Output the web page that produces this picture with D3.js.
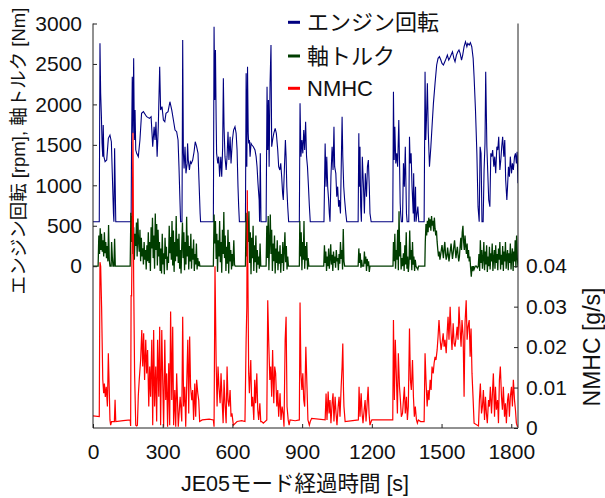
<!DOCTYPE html>
<html>
<head>
<meta charset="utf-8">
<script src="https://cdn.jsdelivr.net/npm/d3@7"></script>
<style>
  body { margin: 0; background: #fff; }
  svg { display: block; font-family: "Liberation Sans", "Noto Sans CJK JP", sans-serif; }
</style>
</head>
<body>
<svg width="605" height="498"></svg>
<script>
var svg = d3.select("svg");

// [time s, value]
var engine = [[0,550],[27,550],[30,2755],[33,2136],[36,1869],[39,1518],[42,1354],[44,1745],[47,1354],[52,1292],[59,1312],[66,1580],[73,1621],[79,1539],[83,1148],[88,653],[90,550],[93,1457],[98,550],[164,550],[166,1518],[169,2342],[172,1642],[175,2569],[178,1560],[181,1930],[184,1436],[188,1395],[195,1354],[202,1560],[209,1889],[217,1910],[231,1848],[243,1827],[250,1848],[254,1642],[257,1477],[263,1724],[267,1560],[271,1786],[276,1354],[281,1724],[287,2466],[291,1930],[297,1972],[303,1807],[309,1786],[314,1889],[323,1910],[331,2033],[339,1930],[346,1807],[353,1683],[360,1663],[366,1560],[370,1230],[375,736],[377,550],[383,550],[386,2796],[389,1395],[392,1209],[396,1477],[400,1148],[405,1271],[407,1518],[410,1312],[415,1189],[419,1292],[423,1271],[429,1312],[435,1415],[440,1539],[446,1477],[452,1395],[456,1065],[461,653],[463,550],[518,550],[521,2960],[524,2054],[527,2672],[530,1807],[532,1395],[537,1271],[541,1354],[545,1106],[550,1354],[554,1106],[558,1477],[561,2322],[564,1724],[568,1354],[573,1189],[577,1354],[581,1663],[585,1312],[590,1601],[594,1271],[600,1560],[605,1683],[611,1724],[616,1642],[620,1436],[624,983],[627,736],[630,550],[656,550],[659,2384],[662,1230],[665,2466],[668,1642],[670,1518],[673,1560],[676,1354],[680,1518],[684,1498],[690,1477],[697,1436],[702,1354],[706,1230],[710,1024],[715,818],[717,550],[720,1395],[723,550],[745,550],[749,2219],[752,1436],[755,2054],[758,1230],[762,2260],[766,2734],[769,1477],[773,1560],[778,1642],[784,1704],[789,1642],[795,1436],[799,1230],[804,1189],[808,1271],[812,1106],[816,900],[819,818],[824,1230],[828,1560],[831,1354],[834,983],[838,736],[842,550],[888,550],[891,2013],[895,1354],[899,1560],[903,1395],[907,1683],[911,1436],[915,1786],[919,1354],[923,1230],[927,1000],[931,750],[935,550],[994,550],[999,1518],[1003,983],[1006,1354],[1010,983],[1014,818],[1017,653],[1020,550],[1024,1106],[1029,1477],[1033,1189],[1037,1724],[1040,1230],[1045,1148],[1049,859],[1053,983],[1057,736],[1060,818],[1065,653],[1069,1354],[1072,1848],[1075,1354],[1079,983],[1083,818],[1088,653],[1092,550],[1141,550],[1144,1642],[1146,983],[1149,1477],[1152,736],[1155,550],[1159,1354],[1164,983],[1168,653],[1172,1148],[1177,859],[1181,1230],[1185,1312],[1189,983],[1192,653],[1197,550],[1290,550],[1293,2157],[1296,1312],[1299,1724],[1303,1271],[1307,1395],[1311,1230],[1316,1807],[1319,1312],[1322,777],[1324,653],[1327,550],[1332,550],[1336,1271],[1340,983],[1344,1477],[1349,653],[1352,550],[1359,550],[1362,1601],[1365,1271],[1369,1395],[1373,983],[1378,653],[1380,1148],[1383,550],[1388,983],[1390,550],[1398,736],[1402,550],[1425,550],[1429,2404],[1432,1560],[1435,1807],[1439,2260],[1443,1642],[1448,1230],[1454,1477],[1459,1724],[1465,2013],[1472,2260],[1479,2487],[1485,2569],[1491,2590],[1497,2548],[1502,2507],[1508,2487],[1514,2528],[1520,2569],[1525,2610],[1531,2548],[1535,2569],[1541,2610],[1547,2651],[1553,2569],[1558,2528],[1564,2610],[1570,2651],[1575,2672],[1580,2631],[1586,2548],[1591,2610],[1597,2713],[1603,2775],[1609,2713],[1613,2754],[1619,2734],[1624,2763],[1630,2713],[1636,2569],[1640,2342],[1646,1930],[1652,1395],[1657,736],[1662,550],[1666,1477],[1670,1395],[1674,550],[1679,550],[1683,1189],[1687,1518],[1690,2404],[1695,1477],[1699,1148],[1703,818],[1708,736],[1712,1395],[1716,1354],[1720,1436],[1725,1230],[1729,1354],[1733,1148],[1738,1477],[1742,1436],[1746,1601],[1751,1189],[1755,1312],[1759,1477],[1763,1601],[1768,1354],[1772,1560],[1776,1065],[1781,818],[1784,983],[1788,1230],[1792,1106],[1796,1354],[1801,1148],[1805,1271],[1809,1189],[1814,1354],[1818,1395],[1822,1271],[1825,1415],[1829,1024]];

var torque = [[0,0],[22,0],[25,380],[28,150],[31,470],[34,200],[37,400],[40,180],[43,320],[46,120],[49,420],[52,160],[55,300],[58,100],[61,250],[64,60],[67,510],[70,80],[73,0],[78,0],[80,300],[83,120],[86,0],[90,0],[93,340],[96,0],[160,0],[163,660],[166,300],[169,620],[172,150],[175,480],[178,80],[181,400],[184,250],[187,540],[190,120],[193,590],[196,300],[199,180],[202,450],[205,60],[208,350],[211,120],[214,220],[217,20],[220,300],[223,80],[226,200],[229,-40],[232,260],[235,60],[238,420],[241,40],[244,300],[247,-60],[250,480],[253,220],[256,600],[259,100],[262,380],[265,-30],[268,650],[271,200],[274,520],[277,10],[280,450],[283,120],[286,300],[289,-60],[292,220],[295,-90],[298,400],[301,20],[304,160],[307,-100],[310,350],[313,90],[316,240],[319,-50],[322,120],[325,40],[328,500],[331,160],[334,360],[337,80],[340,560],[343,10],[346,440],[349,-70],[352,300],[355,60],[358,620],[361,120],[364,340],[367,40],[370,400],[373,-30],[376,200],[379,-90],[382,260],[385,540],[388,100],[391,420],[394,-50],[397,300],[400,20],[403,610],[406,120],[409,380],[412,-40],[415,250],[418,60],[421,400],[424,-30],[427,220],[430,80],[433,330],[436,-60],[439,150],[442,20],[445,280],[448,-40],[451,100],[454,0],[457,60],[460,0],[518,0],[521,640],[524,280],[527,560],[530,90],[533,400],[536,-70],[539,320],[542,120],[545,560],[548,50],[551,300],[554,-80],[557,450],[560,150],[563,670],[566,100],[569,380],[572,-60],[575,240],[578,30],[581,450],[584,-90],[587,300],[590,60],[593,200],[596,-40],[599,150],[602,0],[606,320],[609,20],[612,0],[656,0],[659,660],[662,120],[665,560],[668,300],[671,680],[674,40],[677,420],[680,-100],[683,350],[686,100],[689,500],[692,-60],[695,260],[698,50],[701,380],[704,-80],[707,200],[710,20],[713,120],[716,-30],[719,280],[722,0],[745,0],[748,500],[751,100],[754,620],[757,-50],[760,300],[763,640],[766,150],[769,450],[772,-60],[775,280],[778,60],[781,380],[784,-90],[787,220],[790,40],[793,320],[796,-50],[799,180],[802,30],[805,260],[808,-80],[811,150],[814,40],[817,300],[820,-60],[823,200],[826,420],[829,50],[832,250],[835,-40],[838,120],[841,0],[888,0],[890,560],[893,120],[896,420],[899,-50],[902,300],[905,80],[908,560],[911,-30],[914,250],[917,70],[920,300],[923,-40],[926,100],[929,0],[993,0],[996,260],[999,40],[1002,180],[1005,-60],[1008,120],[1011,0],[1014,220],[1017,-30],[1020,90],[1023,270],[1026,20],[1029,140],[1032,-60],[1035,180],[1038,40],[1041,120],[1044,-20],[1047,200],[1050,60],[1053,100],[1056,-50],[1059,150],[1062,30],[1065,300],[1068,90],[1071,200],[1074,-40],[1077,460],[1080,60],[1083,0],[1141,0],[1144,220],[1147,40],[1150,160],[1153,-20],[1156,80],[1159,0],[1165,0],[1168,180],[1171,30],[1174,120],[1177,-60],[1180,90],[1183,0],[1186,60],[1189,-70],[1192,0],[1291,0],[1293,300],[1296,60],[1299,400],[1302,-30],[1305,200],[1308,80],[1311,450],[1314,-50],[1317,680],[1320,120],[1323,300],[1326,-40],[1329,100],[1332,0],[1336,160],[1339,-60],[1342,260],[1345,20],[1348,420],[1351,-30],[1354,120],[1357,-70],[1360,40],[1363,440],[1366,80],[1369,200],[1372,-50],[1375,300],[1378,20],[1381,120],[1384,-60],[1387,80],[1390,0],[1398,-40],[1401,0],[1428,0],[1430,300],[1433,520],[1436,380],[1439,560],[1442,420],[1445,600],[1448,480],[1451,580],[1454,440],[1457,620],[1460,500],[1463,560],[1466,430],[1469,600],[1472,470],[1475,380],[1478,440],[1481,300],[1484,200],[1487,120],[1490,180],[1493,80],[1496,140],[1499,200],[1502,260],[1505,180],[1508,100],[1511,220],[1514,300],[1517,160],[1520,80],[1523,120],[1526,230],[1529,150],[1532,60],[1535,140],[1538,200],[1541,280],[1544,180],[1547,90],[1550,160],[1553,250],[1556,320],[1559,200],[1562,100],[1565,180],[1568,240],[1571,140],[1574,60],[1577,120],[1580,250],[1583,350],[1586,200],[1589,420],[1592,500],[1595,300],[1598,200],[1601,380],[1604,250],[1607,150],[1610,280],[1613,100],[1616,200],[1619,60],[1622,120],[1625,-20],[1628,-130],[1631,0],[1634,-60],[1637,0],[1640,-40],[1645,0],[1650,0],[1654,-20],[1658,0],[1661,150],[1664,-60],[1667,320],[1670,40],[1673,200],[1676,-30],[1679,100],[1682,300],[1685,-50],[1688,180],[1691,20],[1694,260],[1697,-70],[1700,120],[1703,0],[1706,240],[1709,-40],[1712,160],[1715,60],[1718,280],[1721,-60],[1724,100],[1727,200],[1730,-30],[1733,260],[1736,40],[1739,150],[1742,-50],[1745,220],[1748,80],[1751,300],[1754,-40],[1757,140],[1760,20],[1763,250],[1766,-60],[1769,180],[1772,60],[1775,300],[1778,-30],[1781,120],[1784,200],[1787,-50],[1790,160],[1793,40],[1796,280],[1799,-40],[1802,120],[1805,220],[1808,-60],[1811,180],[1814,60],[1817,320],[1820,-20],[1823,380],[1826,100],[1829,0]];

var nmhc = [[0,.003],[27,.0028],[30,.041],[33,.04],[37,.03],[42,.012],[46,.0086],[49,.011],[53,.0077],[57,.0102],[62,.0053],[66,.0185],[70,.0094],[73,.002],[76,.0007],[80,.0016],[88,.0016],[92,.0016],[95,.007],[98,.0016],[130,.0018],[160,.002],[162,.0005],[164,.0329],[166,.0325],[169,.05],[172,.073],[175,.0366],[179,.0135],[184,.0007],[188,.0005],[191,.0007],[195,.008],[199,.0119],[205,.0168],[210,.0242],[214,.0152],[218,.0234],[222,.0119],[227,.0218],[231,.0135],[235,.0193],[240,.0053],[244,.0152],[248,.0077],[253,.0218],[257,.0007],[261,.0242],[265,.0053],[270,.0152],[274,.0016],[278,.0218],[283,.0077],[287,.025],[291,.0007],[296,.0242],[300,.0119],[304,.0003],[309,.0218],[313,.0069],[317,.0135],[321,.0003],[326,.016],[330,.0007],[334,.0288],[339,.0069],[343,.025],[347,.0007],[352,.0094],[356,.0003],[360,.0135],[367,.0003],[375,.0077],[382,.0016],[386,.0275],[390,.0053],[395,.0102],[399,.0003],[403,.0102],[408,.0218],[412,.0036],[416,.0226],[420,.0102],[425,.0069],[429,.0094],[433,.002],[438,.011],[442,.0028],[446,.0119],[451,.0086],[455,.0069],[459,.0016],[470,.002],[500,.0022],[518,.002],[521,.0003],[525,.04],[530,.016],[534,.0053],[538,.0152],[542,.0102],[547,.0061],[551,.0135],[555,.0077],[560,.0012],[564,.0119],[568,.0061],[573,.0012],[577,.0152],[581,.0069],[585,.0053],[590,.0094],[594,.0028],[598,.0036],[604,.0007],[620,.0016],[640,.0018],[654,.0016],[659,.0218],[662,.03],[664,.0588],[667,.0349],[670,.0135],[673,.0086],[679,.0168],[683,.0053],[687,.0077],[692,.002],[696,.0119],[700,.0061],[705,.0135],[709,.0045],[713,.002],[718,.0061],[722,.0016],[726,.0016],[733,.0012],[748,.002],[752,.0316],[756,.0218],[761,.0119],[765,.0152],[769,.0077],[773,.0193],[778,.0061],[782,.0152],[786,.0135],[791,.0053],[795,.0094],[799,.0028],[805,.0086],[809,.002],[814,.0053],[818,.0036],[822,.0003],[827,.0218],[831,.0275],[835,.0053],[840,.002],[844,.0007],[848,.002],[870,.0018],[888,.002],[891,.031],[895,.0135],[899,.0094],[903,.0135],[907,.0069],[911,.0053],[916,.0201],[920,.0119],[925,.002],[931,.0007],[935,.0016],[941,.0024],[999,.002],[1003,.0085],[1007,.002],[1012,.009],[1016,.0036],[1020,.0069],[1024,.0012],[1029,.0061],[1033,.0086],[1037,.0016],[1042,.0077],[1046,.0036],[1050,.0007],[1055,.0053],[1059,.0077],[1063,.0028],[1068,.0102],[1072,.0152],[1075,.0209],[1078,.0094],[1080,.0053],[1085,.0016],[1142,.002],[1145,.0102],[1149,.0028],[1154,.0086],[1158,.0036],[1162,.0012],[1167,.0045],[1171,.0069],[1175,.0016],[1179,.0053],[1184,.0102],[1188,.0036],[1192,.0007],[1197,.0016],[1200,.002],[1286,.002],[1290,.002],[1293,.0267],[1297,.0069],[1301,.0218],[1306,.0119],[1310,.0036],[1314,.0185],[1319,.0102],[1323,.0069],[1327,.0028],[1332,.0036],[1336,.0069],[1340,.0102],[1344,.0036],[1349,.0077],[1353,.002],[1357,.0053],[1362,.0246],[1366,.0119],[1370,.0094],[1375,.0168],[1379,.0077],[1383,.0028],[1387,.0053],[1392,.002],[1396,.0012],[1400,.002],[1410,.0016],[1425,.0016],[1429,.0185],[1433,.0119],[1438,.0053],[1442,.0094],[1446,.0069],[1451,.0119],[1455,.0094],[1459,.0152],[1464,.0135],[1468,.016],[1472,.0176],[1476,.0168],[1481,.0193],[1485,.0226],[1489,.0267],[1494,.0218],[1498,.0193],[1502,.0209],[1507,.0234],[1511,.0201],[1515,.0218],[1520,.0185],[1524,.0234],[1528,.0275],[1532,.0218],[1537,.03],[1541,.0234],[1545,.0193],[1550,.0259],[1554,.0209],[1558,.0201],[1563,.0226],[1567,.025],[1571,.0218],[1575,.03],[1580,.0242],[1584,.0201],[1588,.0267],[1593,.0226],[1597,.0077],[1601,.0259],[1606,.0316],[1610,.0218],[1614,.025],[1619,.0267],[1623,.0176],[1627,.0246],[1631,.0135],[1636,.0069],[1640,.0012],[1659,.0005],[1663,.0069],[1667,.011],[1672,.0036],[1676,.0053],[1680,.0094],[1685,.002],[1689,.0077],[1693,.0036],[1697,.0012],[1702,.0069],[1706,.0053],[1710,.0102],[1715,.0036],[1719,.0086],[1723,.0135],[1728,.0028],[1732,.0102],[1736,.0045],[1741,.0069],[1745,.0012],[1749,.0119],[1753,.0152],[1758,.0077],[1762,.0045],[1766,.0102],[1771,.0028],[1775,.0061],[1779,.0012],[1784,.0069],[1788,.0086],[1792,.0028],[1796,.0077],[1801,.0102],[1805,.0053],[1809,.0119],[1814,.0069],[1818,.0045],[1822,.0012],[1827,.0003]];

var xTicks = [0, 300, 600, 900, 1200, 1500, 1800];
var leftTicks = [0, 500, 1000, 1500, 2000, 2500, 3000];
var rightTicks = [0, 0.01, 0.02, 0.03, 0.04];
var legendNames = ["エンジン回転", "軸トルク", "NMHC"];
var colors = ["#000080", "#003d00", "#ff0000"];

var plotL = 93, plotR = 518, plotT = 23.5, plotB = 428;

var x = d3.scaleLinear().domain([0, 1829]).range([plotL, plotR]);
var yL = d3.scaleLinear().domain([0, 3000]).range([266.2, plotT]);
var yR = d3.scaleLinear().domain([0, 0.04]).range([plotB, 266.2]);

svg.append("clipPath").attr("id", "clip")
  .append("rect").attr("x", plotL).attr("y", plotT)
  .attr("width", plotR - plotL).attr("height", plotB - plotT);

var lineL = d3.line().x(d => x(d[0])).y(d => yL(d[1]));
var lineR = d3.line().x(d => x(d[0])).y(d => yR(d[1]));

var plot = svg.append("g").attr("clip-path", "url(#clip)");
plot.append("path").attr("fill", "none").attr("stroke", colors[0])
  .attr("stroke-width", 1.1).attr("d", lineL(engine));
plot.append("path").attr("fill", "none").attr("stroke", colors[1])
  .attr("stroke-width", 1.3).attr("d", lineL(torque));
plot.append("path").attr("fill", "none").attr("stroke", colors[2])
  .attr("stroke-width", 1.2).attr("d", lineR(nmhc));

// frame: left, right and bottom lines
var frame = svg.append("g").attr("stroke", "#222").attr("stroke-width", 1);
frame.append("line").attr("x1", plotL).attr("x2", plotL).attr("y1", plotT).attr("y2", plotB);
frame.append("line").attr("x1", plotR).attr("x2", plotR).attr("y1", plotT).attr("y2", plotB);
frame.append("line").attr("x1", plotL).attr("x2", plotR).attr("y1", plotB).attr("y2", plotB);

var styleAxis = function(g) {
  g.select(".domain").remove();
  g.selectAll(".tick line").attr("stroke", "#222");
  g.selectAll(".tick text").attr("fill", "#111")
    .style("font-size", "21px").style("font-family", "'Liberation Sans', Arial, sans-serif");
};

svg.append("g").attr("transform", "translate(" + plotL + ",0)")
  .call(d3.axisLeft(yL).tickValues(leftTicks).tickSize(-4).tickPadding(11).tickFormat(d3.format("d")))
  .call(styleAxis);

svg.append("g").attr("transform", "translate(" + plotR + ",0)")
  .call(d3.axisRight(yR).tickValues(rightTicks).tickSize(-4).tickPadding(8)
    .tickFormat(d => d === 0 ? "0" : d3.format(".2f")(d)))
  .call(styleAxis);

svg.append("g").attr("transform", "translate(0," + plotB + ")")
  .call(d3.axisBottom(x).tickValues(xTicks).tickSize(-4).tickPadding(16).tickFormat(d3.format("d")))
  .call(styleAxis);

// axis titles
svg.append("text")
  .attr("transform", "translate(25,151) rotate(-90)")
  .attr("text-anchor", "middle")
  .style("font-size", "18.5px").attr("fill", "#111")
  .text("エンジン回転 [rpm], 軸トルク [Nm]");

svg.append("text")
  .attr("transform", "translate(600,347) rotate(-90)")
  .attr("text-anchor", "middle")
  .style("font-size", "23px").attr("fill", "#111")
  .text("NMHC [g/s]");

svg.append("text")
  .attr("x", 295).attr("y", 491)
  .attr("text-anchor", "middle")
  .style("font-size", "21.5px").attr("fill", "#111")
  .text("JE05モード経過時間 [s]");

// legend
var legendY = [22.3, 56, 88.3];
var legend = svg.append("g");
legendNames.forEach(function(name, i) {
  legend.append("line").attr("x1", 288).attr("x2", 300)
    .attr("y1", legendY[i]).attr("y2", legendY[i])
    .attr("stroke", colors[i]).attr("stroke-width", 3);
  legend.append("text").attr("x", 307).attr("y", legendY[i] + 8)
    .style("font-size", "22px").attr("fill", "#111")
    .text(name);
});
</script>
</body>
</html>
